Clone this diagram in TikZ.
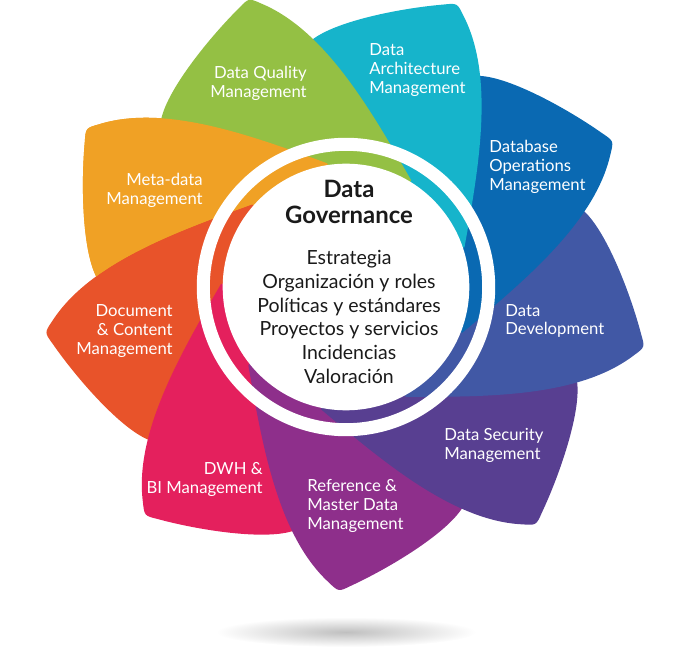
\documentclass[tikz,border=0pt]{standalone}
\usepackage{fontspec}
\setmainfont{Lato}
\usepackage{tikz}
\definecolor{green500}{HTML}{94C044}
\definecolor{cyan500}{HTML}{16B4CB}
\definecolor{blue700}{HTML}{0A69B2}
\definecolor{indigo500}{HTML}{4158A5}
\definecolor{purple700}{HTML}{583F91}
\definecolor{purple500}{HTML}{8E2F8B}
\definecolor{pink500}{HTML}{E4205D}
\definecolor{red500}{HTML}{E8532A}
\definecolor{orange500}{HTML}{F0A125}
\definecolor{gray900}{HTML}{1A1A1A}
\tikzstyle{area}=[font=\fontsize{9.5}{10.6}\selectfont, text=white, inner sep=0pt]
\tikzstyle{titulo}=[font=\fontsize{13.6}{14.8}\selectfont\bfseries, text=gray900, align=center, inner sep=0pt]
\tikzstyle{tema}=[font=\fontsize{11.1}{13.6}\selectfont, text=gray900, align=center, inner sep=0pt]
% petal with its tip up, centre of the flower at (0,0)
\newcommand{\petalo}{(0,0) -- (95.8,80.3) .. controls (80,160) and (62,250) .. (10.3,295.5) .. controls (0,305) .. (-12.4,298.5) .. controls (-50,280) and (-105,245) .. (-121.2,218.7) .. controls (-132,190) and (-125,150) .. (-95,125) -- (-50,112) -- cycle}
% everything on the clockwise side of a petal's front edge
\newcommand{\frente}{(0,0) -- (95.8,80.3) .. controls (80,160) and (62,250) .. (10.3,295.5) -- (0,700) -- (700,700) -- (700,-100) -- cycle}

\begin{document}
\begin{tikzpicture}[x=0.02cm, y=0.02cm]
	\useasboundingbox (0,0) rectangle (679,656);
	\coordinate (c) at (346,369);
	% shadow
	\shade[inner color=black!25, outer color=white] (346,24) ellipse (130 and 15);
	% petals, each one over its clockwise neighbour
	\foreach \col/\k in {orange500/8, red500/7, pink500/6, purple500/5, purple700/4, indigo500/3, blue700/2, cyan500/1, green500/0}
		\fill[\col, shift={(c)}, rotate=18.6-40*\k] \petalo;
	% meta-data once more, over data quality
	\begin{scope}[shift={(c)}, rotate=18.6-280]
		\clip \frente;
		\fill[orange500, rotate=-40] \petalo;
	\end{scope}
	% ring
	\fill[white, even odd rule] (c) circle (149.2) circle (136.2);
	\fill[white] (c) circle (123.3);
	\node[area, anchor=east, align=right] (dq) at (307,572.5) {Data Quality\\Management};
	\node[area, anchor=west, align=left] (da) at (369,586) {Data\\Architecture\\Management};
	\node[area, anchor=west, align=left] (dbo) at (489,489) {Database\\Operations\\Management};
	\node[area, anchor=west, align=left] (dd) at (505,335) {Data\\Development};
	\node[area, anchor=west, align=left] (ds) at (444,210.5) {Data Security\\Management};
	\node[area, anchor=west, align=left] (rmd) at (307,150) {Reference \&\\Master Data\\Management};
	\node[area, anchor=east, align=right] (dwh) at (263,176.5) {DWH \&\\BI Management};
	\node[area, anchor=east, align=right] (dcm) at (173,325) {Document\\\& Content\\Management};
	\node[area, anchor=east, align=right] (md) at (203,465.5) {Meta-data\\Management};
	\node[titulo] (dg) at (349,454) {Data\\Governance};
	\node[tema] (temas) at (349,339) {Estrategia\\Organización y roles\\Políticas y estándares\\Proyectos y servicios\\Incidencias\\Valoración};
\end{tikzpicture}
\end{document}
